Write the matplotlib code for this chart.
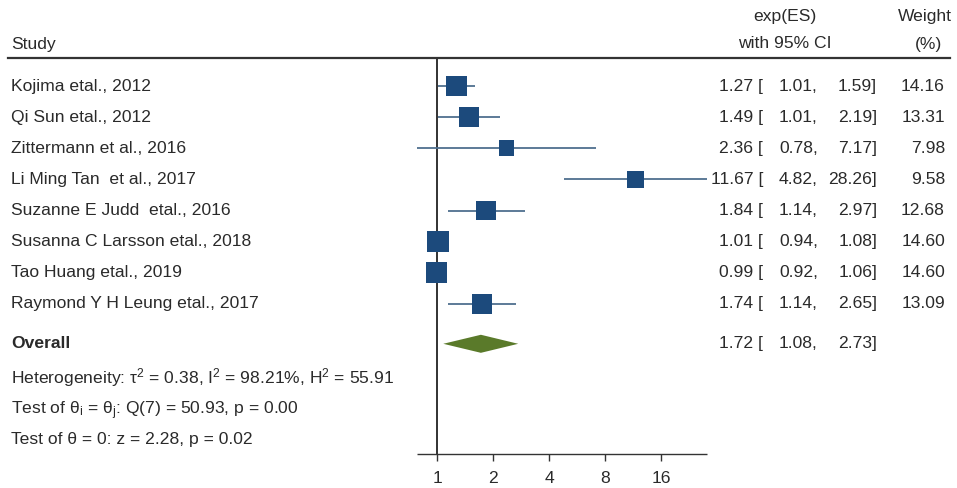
import matplotlib
matplotlib.use("Agg")
import matplotlib.pyplot as plt
from matplotlib.transforms import blended_transform_factory
from matplotlib.lines import Line2D
import numpy as np

plt.rcParams['font.family'] = ['Liberation Sans', 'DejaVu Sans']
plt.rcParams['mathtext.fontset'] = 'custom'
plt.rcParams['mathtext.rm'] = 'Liberation Sans'
plt.rcParams['mathtext.it'] = 'Liberation Sans'
plt.rcParams['mathtext.bf'] = 'Liberation Sans:bold'

# ---------------- data ----------------
studies = ["Kojima etal., 2012", "Qi Sun etal., 2012", "Zittermann et al., 2016",
           "Li Ming Tan  et al., 2017", "Suzanne E Judd  etal., 2016",
           "Susanna C Larsson etal., 2018", "Tao Huang etal., 2019",
           "Raymond Y H Leung etal., 2017"]
es = [1.27, 1.49, 2.36, 11.67, 1.84, 1.01, 0.99, 1.74]
lower = [1.01, 1.01, 0.78, 4.82, 1.14, 0.94, 0.92, 1.14]
upper = [1.59, 2.19, 7.17, 28.26, 2.97, 1.08, 1.06, 2.65]
weights = [14.16, 13.31, 7.98, 9.58, 12.68, 14.60, 14.60, 13.09]
overall_label = "Overall"
overall_es, overall_lo, overall_hi = 1.72, 1.08, 2.73
stats_lines = [r"Heterogeneity: τ$^{2}$ = 0.38, I$^{2}$ = 98.21%, H$^{2}$ = 55.91",
               r"Test of θ$_{i}$ = θ$_{j}$: Q(7) = 50.93, p = 0.00",
               r"Test of θ = 0: z = 2.28, p = 0.02"]
xticks = [1, 2, 4, 8, 16]
xticklabels = ["1", "2", "4", "8", "16"]

# ---------------- layout ----------------
W, H = 957, 488
def fx(px): return px / W
def fy(py): return 1 - py / H

FS = 12.6
TXT = '#2a2a2a'
SQ = '#1c4a7c'
CI = '#4f6f8f'
DIA = '#5a7a2a'

fig = plt.figure(figsize=(W / 100, H / 100), dpi=100)
ax = fig.add_axes([fx(417), fy(454), fx(707) - fx(417), (454 - 58) / H])
ax.set_xscale('log', base=2)
ax.set_xlim(min(lower), max(upper))
ax.set_ylim(11.82, -0.9)

rows = np.arange(len(studies))
overall_y = 8.28
stat_rows = [9.28, 10.3, 11.3]

for s in ['left', 'right', 'top', 'bottom']:
    ax.spines[s].set_visible(False)
ax.set_yticks([])
ax.set_xticks(xticks)
ax.set_xticklabels(xticklabels, fontsize=FS, color=TXT)
ax.minorticks_off()
ax.tick_params(axis='x', which='minor', length=0)
ax.tick_params(axis='x', which='major', length=5, width=1, color='#333333', pad=7)
ax.patch.set_visible(False)

# x axis line
ax.plot(ax.get_xlim(), [11.82, 11.82], color='#333333', lw=1.0, clip_on=False,
        solid_capstyle='butt')
ax.axvline(1, color='#222222', lw=1.3, zorder=1)

ax.hlines(rows, lower, upper, color=CI, lw=1.3, zorder=2)
sizes = (15.3 * np.sqrt(np.array(weights) / 14.6)) ** 2
ax.scatter(es, rows, marker='s', s=sizes, color=SQ, zorder=3, linewidths=0)

h = 0.29
ax.fill([overall_lo, overall_es, overall_hi, overall_es],
        [overall_y, overall_y - h, overall_y, overall_y + h],
        color=DIA, zorder=3, lw=0)

tr = blended_transform_factory(fig.transFigure, ax.transData)
for i, name in enumerate(studies):
    ax.text(fx(11), rows[i], name, transform=tr, ha='left', va='center', fontsize=FS, color=TXT, clip_on=False)
    ax.text(fx(763), rows[i], f"{es[i]:.2f} [", transform=tr, ha='right', va='center', fontsize=FS, color=TXT, clip_on=False)
    ax.text(fx(818), rows[i], f"{lower[i]:.2f},", transform=tr, ha='right', va='center', fontsize=FS, color=TXT, clip_on=False)
    ax.text(fx(877), rows[i], f"{upper[i]:.2f}]", transform=tr, ha='right', va='center', fontsize=FS, color=TXT, clip_on=False)
    ax.text(fx(945), rows[i], f"{weights[i]:.2f}", transform=tr, ha='right', va='center', fontsize=FS, color=TXT, clip_on=False)

ax.text(fx(11), overall_y, overall_label, transform=tr, ha='left', va='center', fontsize=FS, color=TXT, fontweight='bold', clip_on=False)
ax.text(fx(763), overall_y, f"{overall_es:.2f} [", transform=tr, ha='right', va='center', fontsize=FS, color=TXT, clip_on=False)
ax.text(fx(818), overall_y, f"{overall_lo:.2f},", transform=tr, ha='right', va='center', fontsize=FS, color=TXT, clip_on=False)
ax.text(fx(877), overall_y, f"{overall_hi:.2f}]", transform=tr, ha='right', va='center', fontsize=FS, color=TXT, clip_on=False)

for y, line in zip(stat_rows, stats_lines):
    ax.text(fx(11), y, line, transform=tr, ha='left', va='center_baseline', fontsize=FS, color=TXT, clip_on=False)

# header
fig.text(fx(11), fy(44), "Study", ha='left', va='center', fontsize=FS, color=TXT)
fig.text(fx(785), fy(17), "exp(ES)", ha='center', va='center', fontsize=FS, color=TXT)
fig.text(fx(785), fy(44), "with 95% CI", ha='center', va='center', fontsize=FS, color=TXT)
fig.text(fx(925), fy(17), "Weight", ha='center', va='center', fontsize=FS, color=TXT)
fig.text(fx(929), fy(44), "(%)", ha='center', va='center', fontsize=FS, color=TXT)
fig.add_artist(Line2D([fx(8), fx(950)], [fy(58), fy(58)], color='#333333', lw=1.6))

fig.savefig("out.png", dpi=100, facecolor='white')
